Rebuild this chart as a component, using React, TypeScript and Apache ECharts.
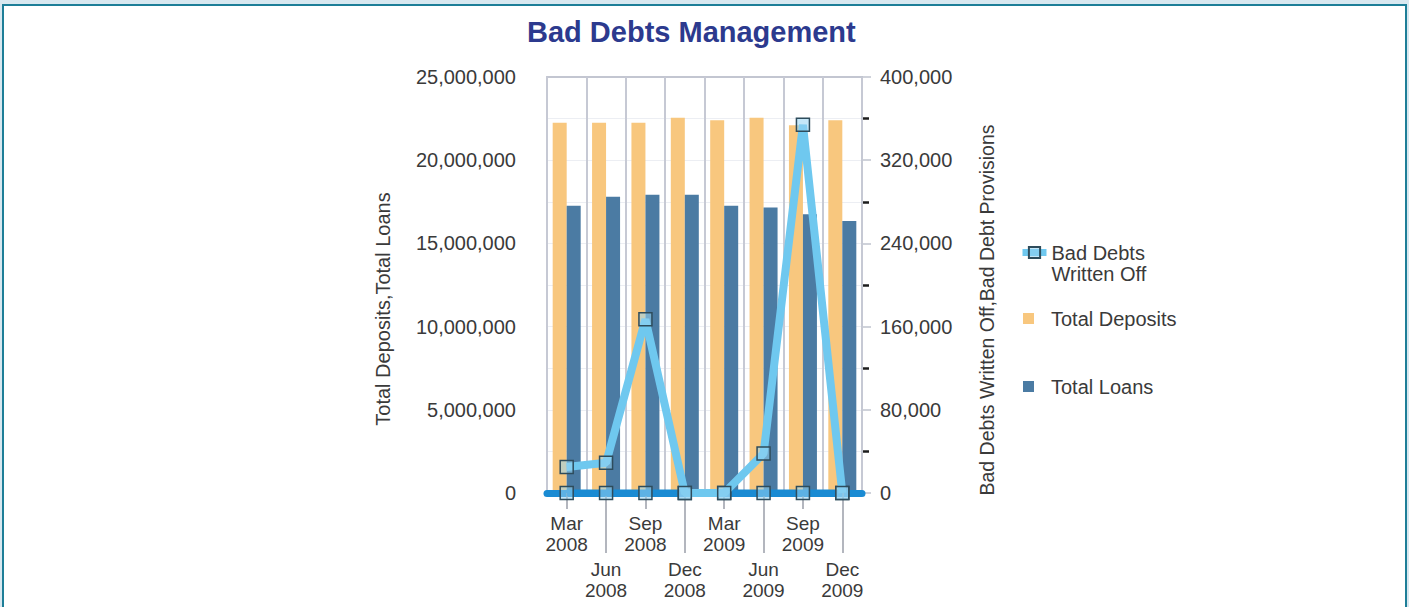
import React, { useEffect, useRef } from "react";
import * as echarts from "echarts";

const categories = ["Mar 2008", "Jun 2008", "Sep 2008", "Dec 2008", "Mar 2009", "Jun 2009", "Sep 2009", "Dec 2009"];
const totalDeposits = [22250000, 22250000, 22250000, 22550000, 22400000, 22550000, 22100000, 22400000];
const totalLoans = [17270000, 17800000, 17930000, 17930000, 17270000, 17150000, 16750000, 16350000];
const badDebtsWrittenOff = [25000, 29000, 167000, 0, 0, 38000, 354000, 0];
const badDebtProvisions = [0, 0, 0, 0, 0, 0, 0, 0];
const leftTicks = { min: 0, max: 25000000, interval: 5000000 };
const rightTicks = { min: 0, max: 400000, interval: 80000 };

const FONT = "'Liberation Sans', Arial, Helvetica, sans-serif";
const fmt = (v: number) => v.toLocaleString("en-US");
const catLabel = (v: string) => v.replace(" ", "\n");

export default function App() {
  const ref = useRef<HTMLDivElement>(null);
  useEffect(() => {
    if (!ref.current) return;
    const chart = echarts.init(ref.current, undefined, { renderer: "svg" });
    const symbolStyle = {
      color: "rgba(150,212,242,0.55)",
      borderColor: "#2e4c5c",
      borderWidth: 1.5,
    };
    const baseX = {
      type: "category" as const,
      data: categories,
      gridIndex: 0,
      boundaryGap: true,
    };
    chart.setOption({
      animation: false,
      textStyle: { fontFamily: FONT },
      title: {
        text: "Bad Debts Management",
        left: 522,
        top: 12,
        textStyle: { fontFamily: FONT, fontSize: 29, fontWeight: "bold", color: "#2c3a8e" },
      },
      grid: { left: 547, right: 1409 - 862, top: 77, bottom: 607 - 493, containLabel: false },
      legend: [
        {
          data: ["Bad Debts Written Off"],
          orient: "vertical",
          left: 1019,
          top: 221,
          padding: 0,
          itemWidth: 24,
          itemHeight: 14,
          lineStyle: { width: 7, color: "#6fc8ef" },
          formatter: () => " \nBad Debts\nWritten Off",
          textStyle: { fontFamily: FONT, fontSize: 20, lineHeight: 21, color: "#3a3a3a" },
        },
        {
          data: ["Total Deposits"],
          orient: "vertical",
          left: 1023,
          top: 308,
          padding: 0,
          icon: "rect",
          itemWidth: 11,
          itemHeight: 11,
          textStyle: { fontFamily: FONT, fontSize: 20, lineHeight: 21, color: "#3a3a3a", padding: [0, 0, 0, 12] },
        },
        {
          data: ["Total Loans"],
          orient: "vertical",
          left: 1023,
          top: 376,
          padding: 0,
          icon: "rect",
          itemWidth: 11,
          itemHeight: 11,
          textStyle: { fontFamily: FONT, fontSize: 20, lineHeight: 21, color: "#3a3a3a", padding: [0, 0, 0, 12] },
        },
      ],
      xAxis: [
        {
          ...baseX,
          position: "bottom",
          z: 3,
          axisLine: { show: true, lineStyle: { color: "#1a8bd3", width: 7 } },
          axisTick: {
            show: true,
            alignWithLabel: true,
            length: 16,
            interval: (i: number) => i % 2 === 0,
            lineStyle: { color: "#9a9ea8", width: 1.5 },
          },
          axisLabel: {
            interval: (i: number) => i % 2 === 0,
            formatter: catLabel,
            fontFamily: FONT,
            fontSize: 19,
            lineHeight: 21,
            color: "#3a3a3a",
            margin: 20,
          },
          splitLine: { show: true, interval: 0, lineStyle: { color: "#c6c9d4", width: 2 } },
        },
        {
          ...baseX,
          position: "bottom",
          z: 3,
          axisLine: { show: false },
          axisTick: {
            show: true,
            alignWithLabel: true,
            length: 60,
            interval: (i: number) => i % 2 === 1,
            lineStyle: { color: "#9a9ea8", width: 1.5 },
          },
          axisLabel: {
            interval: (i: number) => i % 2 === 1,
            formatter: catLabel,
            fontFamily: FONT,
            fontSize: 19,
            lineHeight: 21,
            color: "#3a3a3a",
            margin: 66,
          },
          splitLine: { show: false },
        },
        {
          ...baseX,
          position: "top",
          axisLine: { show: true, lineStyle: { color: "#c3c6d1", width: 2 } },
          axisTick: { show: false },
          axisLabel: { show: false },
          splitLine: { show: false },
        },
      ],
      yAxis: [
        {
          type: "value",
          ...leftTicks,
          position: "left",
          axisLine: { show: true, lineStyle: { color: "#c6c9d4", width: 2 } },
          axisTick: { show: false },
          axisLabel: { formatter: fmt, fontFamily: FONT, fontSize: 20, color: "#3a3a3a", margin: 31 },
          splitLine: { show: true, lineStyle: { color: "#eceef3", width: 1 } },
          minorTick: { show: false, splitNumber: 2 },
          minorSplitLine: { show: true, lineStyle: { color: "#eceef3", width: 1 } },
        },
        {
          type: "value",
          ...rightTicks,
          position: "right",
          axisLine: { show: true, lineStyle: { color: "#bfc3ce", width: 2 } },
          axisTick: { show: true, length: 9, lineStyle: { color: "#bfc3ce", width: 1.5 } },
          minorTick: { show: true, splitNumber: 2, length: 7, lineStyle: { color: "#1c1c1c", width: 2.5 } },
          axisLabel: { formatter: fmt, fontFamily: FONT, fontSize: 20, color: "#3a3a3a", margin: 18 },
          splitLine: { show: false },
        },
      ],
      graphic: [
        {
          type: "text",
          x: 383,
          y: 309,
          rotation: Math.PI / 2,
          style: {
            text: "Total Deposits,Total Loans",
            font: `20px ${FONT}`,
            fill: "#3a3a3a",
            align: "center",
            verticalAlign: "middle",
          },
        },
        {
          type: "text",
          x: 987,
          y: 310,
          rotation: Math.PI / 2,
          style: {
            text: "Bad Debts Written Off,Bad Debt Provisions",
            font: `19.5px ${FONT}`,
            fill: "#3a3a3a",
            align: "center",
            verticalAlign: "middle",
          },
        },
      ],
      series: [
        {
          name: "Total Deposits",
          type: "bar",
          xAxisIndex: 0,
          yAxisIndex: 0,
          data: totalDeposits,
          barWidth: 14,
          barGap: "0%",
          itemStyle: { color: "#f8c77e" },
        },
        {
          name: "Total Loans",
          type: "bar",
          xAxisIndex: 0,
          yAxisIndex: 0,
          data: totalLoans,
          barWidth: 14,
          barGap: "0%",
          itemStyle: { color: "#4b7ba3" },
        },
        {
          name: "Bad Debt Provisions",
          type: "line",
          xAxisIndex: 0,
          yAxisIndex: 1,
          z: 4,
          data: badDebtProvisions,
          symbol: "rect",
          symbolSize: 13,
          showAllSymbol: true,
          lineStyle: { color: "#1a8bd3", width: 7 },
          itemStyle: symbolStyle,
        },
        {
          name: "Bad Debts Written Off",
          type: "line",
          xAxisIndex: 0,
          yAxisIndex: 1,
          z: 5,
          data: badDebtsWrittenOff,
          symbol: "rect",
          symbolSize: 13,
          showAllSymbol: true,
          color: "#6fc8ef",
          lineStyle: { color: "#6fc8ef", width: 8 },
          itemStyle: symbolStyle,
        },
      ],
    });
    return () => chart.dispose();
  }, []);
  return (
    <div style={{ position: "fixed", left: 0, top: 0, width: 1409, height: 607, background: "#d8e8f0", overflow: "hidden" }}>
      <div
        style={{
          position: "absolute",
          left: 2,
          top: 4,
          width: 1405,
          height: 640,
          boxSizing: "border-box",
          border: "2px solid #1d7e98",
          background: "#ffffff",
        }}
      />
      <div ref={ref} style={{ position: "absolute", left: 0, top: 0, width: 1409, height: 607 }} />
    </div>
  );
}
